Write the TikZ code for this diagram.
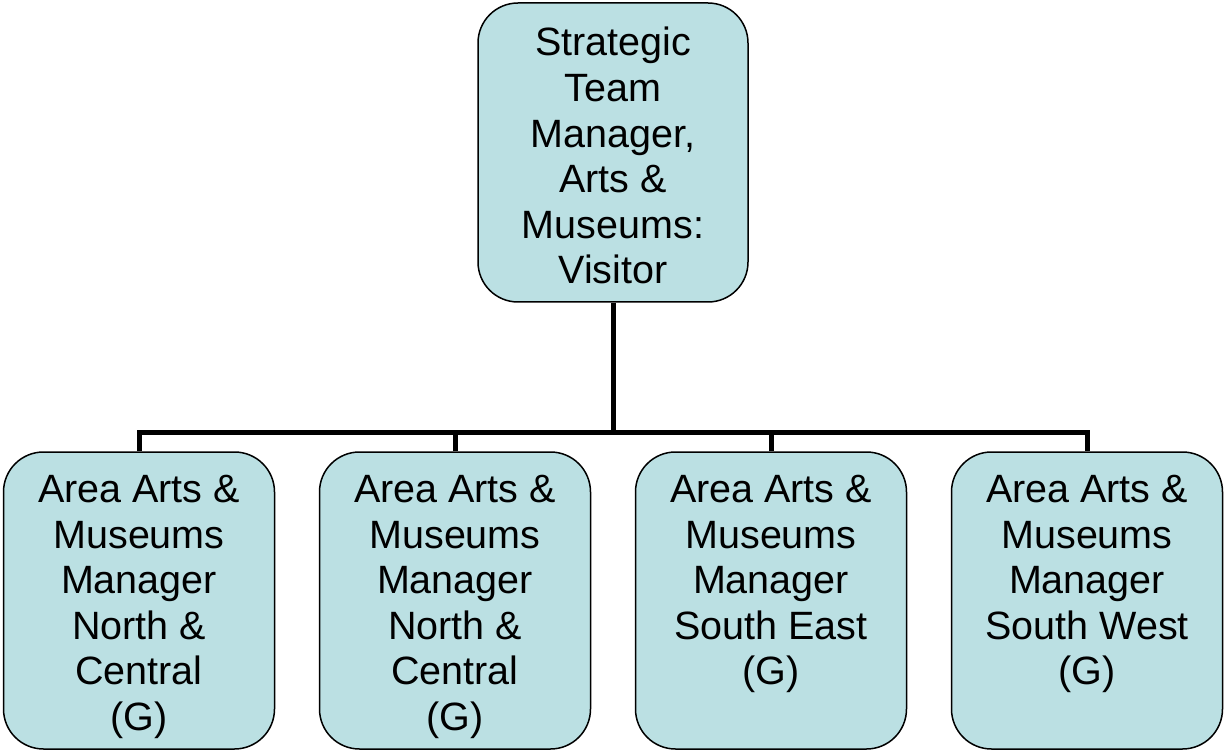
\documentclass[tikz,border=0pt]{standalone}
\usepackage{fontspec}
\setmainfont{Liberation Sans}
\definecolor{boxfill}{RGB}{187,224,227}
\begin{document}
\begin{tikzpicture}[x=1pt,y=-1pt,
  box/.style={draw=black,line width=1.5pt,fill=boxfill,rounded corners=40pt,
    minimum width=271pt,minimum height=297pt,inner sep=0pt},
  txt/.style={anchor=north,align=center,inner sep=0pt,
    font=\fontsize{39.5}{45.6}\selectfont},
  conn/.style={line width=5pt}]
\useasboundingbox (0,0) rectangle (1224,751);
\node[box,minimum width=270pt,minimum height=299pt] (top) at (613,152.5) {};
\node[box] (b1) at (139,600.5) {};
\node[box] (b2) at (455,600.5) {};
\node[box] (b3) at (771,600.5) {};
\node[box] (b4) at (1087,600.5) {};
\node[txt] (t0) at (613,27) {Strategic\\Team\\Manager,\\Arts \&\\Museums:\\Visitor};
\node[txt] (t1) at (139,475) {Area Arts \&\\Museums\\Manager\\North \&\\Central\\(G)};
\node[txt] (t2) at (455,475) {Area Arts \&\\Museums\\Manager\\North \&\\Central\\(G)};
\node[txt] (t3) at (771,475) {Area Arts \&\\Museums\\Manager\\South East\\(G)};
\node[txt] (t4) at (1087,475) {Area Arts \&\\Museums\\Manager\\South West\\(G)};
\coordinate (j) at (613,432);
\draw[conn] (top.south) -- (j);
\draw[conn] (b1.north) |- (j) -| (b4.north);
\draw[conn] (b2.north) -- (b2.north |- j);
\draw[conn] (b3.north) -- (b3.north |- j);
\end{tikzpicture}
\end{document}
